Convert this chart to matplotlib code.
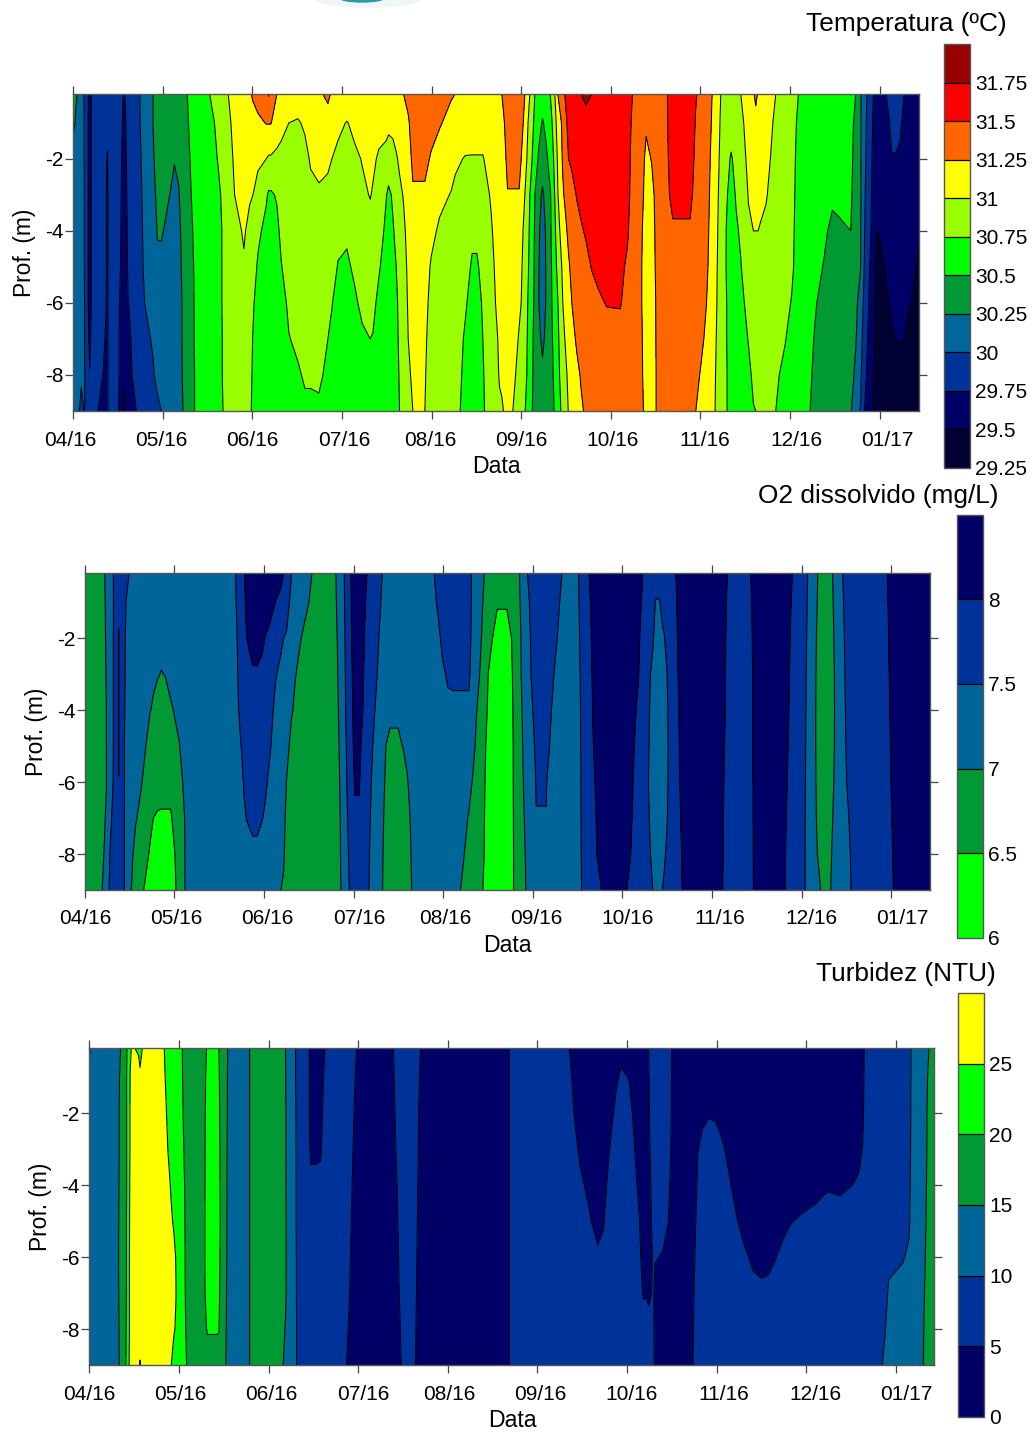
# coding: utf-8
import numpy as np
import matplotlib
matplotlib.use('Agg')
import matplotlib.pyplot as plt
from matplotlib.patches import Ellipse

plt.rcParams['font.family'] = ['Liberation Sans', 'DejaVu Sans']

W = 1032.0
H = 1432.0
MONTH = 269.0

depths = [-0.2, -1, -2, -3, -4, -5, -6, -7, -8, -9]
months = ['04/16', '05/16', '06/16', '07/16', '08/16', '09/16', '10/16', '11/16', '12/16', '01/17']

temp_levels = [29.25, 29.5, 29.75, 30, 30.25, 30.5, 30.75, 31, 31.25, 31.5, 31.75, 32]
temp_labels = ['29.25', '29.5', '29.75', '30', '30.25', '30.5', '30.75', '31', '31.25', '31.5', '31.75']
temp_colors = ['#000033', '#000066', '#003399', '#006699', '#009933', '#00ff00', '#99ff00', '#ffff00', '#ff6600', '#ff0000', '#990000']

o2_levels = [6, 6.5, 7, 7.5, 8, 8.5]
o2_labels = ['6', '6.5', '7', '7.5', '8']
o2_colors = ['#00ff00', '#009933', '#006699', '#003399', '#000066']

turb_levels = [0, 5, 10, 15, 20, 25, 30]
turb_labels = ['0', '5', '10', '15', '20', '25']
turb_colors = ['#000066', '#003399', '#006699', '#009933', '#00ff00', '#ffff00']

# first column: time (1/269 of a month since 04/16), then one value per depth
temp_table = [
    [0, 30.52, 30.38, 30.05, 30.12, 30.12, 30.12, 30.12, 30.12, 30.12, 30.12],
    [12, 30.25, 30.12, 30.12, 30.12, 30.12, 30.12, 30.12, 30.12, 30.12, 30.12],
    [25, 30.1, 30.1, 30.1, 30.1, 30.1, 30.1, 30.1, 30.1, 30.05, 29.9],
    [34, 29.98, 29.99, 29.99, 30, 30, 30, 30.01, 30.01, 30.02, 30.02],
    [42, 29.88, 29.88, 29.88, 29.88, 29.88, 29.88, 29.88, 29.88, 29.88, 29.88],
    [50, 29.6, 29.6, 29.6, 29.6, 29.6, 29.6, 29.6, 29.7, 29.76, 29.88],
    [60, 29.88, 29.88, 29.88, 29.88, 29.88, 29.88, 29.88, 29.88, 29.88, 29.88],
    [75, 29.9, 29.9, 29.9, 29.9, 29.9, 29.9, 29.9, 29.9, 29.9, 29.75],
    [90, 29.9, 29.9, 29.9, 29.9, 29.9, 29.9, 29.9, 29.84, 29.74, 29.65],
    [98, 29.88, 29.88, 29.88, 29.88, 29.88, 29.88, 29.8, 29.72, 29.65, 29.65],
    [103, 29.88, 29.85, 29.72, 29.62, 29.62, 29.62, 29.62, 29.62, 29.62, 29.62],
    [107, 29.9, 29.9, 29.9, 29.9, 29.9, 29.9, 29.9, 29.9, 29.9, 29.9],
    [130, 29.88, 29.88, 29.88, 29.88, 29.88, 29.88, 29.88, 29.88, 29.88, 29.88],
    [140, 29.88, 29.88, 29.88, 29.86, 29.84, 29.8, 29.75, 29.72, 29.72, 29.7],
    [150, 29.76, 29.72, 29.65, 29.62, 29.6, 29.6, 29.6, 29.6, 29.6, 29.6],
    [153, 29.7, 29.6, 29.58, 29.56, 29.55, 29.55, 29.55, 29.55, 29.55, 29.42],
    [158, 29.8, 29.74, 29.72, 29.7, 29.65, 29.62, 29.6, 29.6, 29.6, 29.6],
    [165, 29.85, 29.83, 29.82, 29.8, 29.8, 29.78, 29.74, 29.68, 29.65, 29.65],
    [190, 29.9, 29.9, 29.88, 29.88, 29.88, 29.88, 29.88, 29.88, 29.85, 29.75],
    [199, 29.99, 29.98, 29.95, 29.9, 29.88, 29.88, 29.88, 29.88, 29.88, 29.86],
    [215, 30.1, 30.1, 30.1, 30.1, 30.08, 30.05, 30.0, 29.95, 29.9, 29.88],
    [240, 30.25, 30.25, 30.22, 30.18, 30.12, 30.1, 30.1, 30.02, 29.98, 29.9],
    [253, 30.35, 30.35, 30.34, 30.3, 30.26, 30.22, 30.15, 30.12, 30.05, 29.95],
    [265, 30.35, 30.35, 30.33, 30.3, 30.27, 30.2, 30.15, 30.12, 30.1, 30.0],
    [277, 30.35, 30.35, 30.33, 30.3, 30.23, 30.18, 30.14, 30.12, 30.12, 30.12],
    [304, 30.4, 30.35, 30.26, 30.2, 30.15, 30.12, 30.12, 30.12, 30.12, 30.12],
    [317, 30.4, 30.36, 30.3, 30.23, 30.18, 30.14, 30.12, 30.12, 30.12, 30.12],
    [327, 30.42, 30.38, 30.36, 30.33, 30.3, 30.28, 30.25, 30.25, 30.24, 30.22],
    [335, 30.45, 30.4, 30.38, 30.36, 30.35, 30.35, 30.35, 30.35, 30.33, 30.3],
    [343, 30.5, 30.47, 30.44, 30.42, 30.4, 30.4, 30.4, 30.4, 30.39, 30.38],
    [355, 30.6, 30.57, 30.53, 30.5, 30.47, 30.45, 30.44, 30.43, 30.42, 30.42],
    [365, 30.6, 30.6, 30.58, 30.56, 30.54, 30.52, 30.51, 30.51, 30.5, 30.5],
    [385, 30.62, 30.62, 30.62, 30.62, 30.62, 30.62, 30.62, 30.62, 30.62, 30.62],
    [410, 30.75, 30.68, 30.64, 30.62, 30.62, 30.61, 30.6, 30.6, 30.6, 30.6],
    [435, 30.83, 30.8, 30.76, 30.7, 30.66, 30.65, 30.65, 30.64, 30.63, 30.62],
    [448, 30.9, 30.86, 30.82, 30.78, 30.76, 30.76, 30.76, 30.75, 30.75, 30.74],
    [466, 31.0, 30.95, 30.92, 30.88, 30.85, 30.84, 30.83, 30.83, 30.82, 30.82],
    [485, 31.1, 31.07, 31.03, 31.0, 30.94, 30.9, 30.86, 30.85, 30.84, 30.83],
    [513, 31.2, 31.15, 31.1, 31.05, 31.02, 30.98, 30.92, 30.88, 30.86, 30.85],
    [530, 31.22, 31.14, 31.08, 31.02, 30.95, 30.9, 30.86, 30.84, 30.82, 30.78],
    [540, 31.28, 31.16, 31.08, 31.0, 30.92, 30.85, 30.78, 30.74, 30.72, 30.72],
    [555, 31.35, 31.2, 31.05, 30.9, 30.8, 30.72, 30.65, 30.65, 30.65, 30.65],
    [580, 31.42, 31.26, 31.0, 30.78, 30.68, 30.64, 30.62, 30.62, 30.62, 30.62],
    [587, 31.52, 31.26, 30.97, 30.72, 30.65, 30.62, 30.62, 30.62, 30.62, 30.62],
    [594, 31.4, 31.26, 30.97, 30.72, 30.65, 30.62, 30.62, 30.62, 30.62, 30.62],
    [612, 31.25, 31.12, 30.95, 30.77, 30.7, 30.64, 30.62, 30.62, 30.62, 30.62],
    [625, 31.15, 31.05, 30.95, 30.88, 30.8, 30.74, 30.65, 30.63, 30.62, 30.62],
    [648, 31.1, 31.0, 30.95, 30.92, 30.9, 30.85, 30.8, 30.74, 30.68, 30.62],
    [675, 31.12, 30.98, 30.94, 30.92, 30.9, 30.88, 30.85, 30.8, 30.72, 30.65],
    [696, 31.12, 31.03, 30.94, 30.92, 30.9, 30.88, 30.85, 30.82, 30.78, 30.7],
    [713, 31.15, 31.08, 31.02, 30.95, 30.9, 30.88, 30.85, 30.82, 30.78, 30.7],
    [738, 31.2, 31.12, 31.06, 30.97, 30.92, 30.88, 30.85, 30.82, 30.78, 30.72],
    [750, 31.25, 31.14, 31.05, 30.96, 30.9, 30.86, 30.83, 30.79, 30.75, 30.68],
    [765, 31.3, 31.15, 31.04, 30.94, 30.88, 30.84, 30.8, 30.75, 30.7, 30.64],
    [777, 31.22, 31.12, 31.0, 30.92, 30.87, 30.83, 30.76, 30.7, 30.65, 30.62],
    [795, 31.2, 31.05, 30.95, 30.88, 30.8, 30.74, 30.66, 30.63, 30.62, 30.62],
    [822, 31.18, 30.99, 30.94, 30.87, 30.78, 30.72, 30.65, 30.62, 30.62, 30.62],
    [845, 31.17, 31.05, 30.96, 30.9, 30.84, 30.78, 30.72, 30.66, 30.62, 30.62],
    [868, 31.2, 31.1, 31.01, 30.96, 30.9, 30.85, 30.79, 30.72, 30.65, 30.62],
    [892, 31.2, 31.12, 31.05, 31.01, 30.93, 30.88, 30.82, 30.75, 30.68, 30.62],
    [900, 31.2, 31.12, 31.04, 30.98, 30.92, 30.86, 30.8, 30.74, 30.66, 30.62],
    [918, 31.17, 31.08, 30.97, 30.92, 30.85, 30.77, 30.7, 30.65, 30.62, 30.62],
    [940, 31.17, 31.05, 30.95, 30.76, 30.7, 30.66, 30.64, 30.63, 30.62, 30.62],
    [947, 31.17, 31.05, 30.9, 30.7, 30.66, 30.64, 30.63, 30.62, 30.62, 30.62],
    [960, 31.17, 31.04, 30.95, 30.78, 30.73, 30.7, 30.68, 30.67, 30.66, 30.66],
    [970, 31.2, 31.08, 30.98, 30.9, 30.8, 30.75, 30.7, 30.68, 30.67, 30.66],
    [980, 31.22, 31.12, 31.03, 30.96, 30.9, 30.86, 30.82, 30.8, 30.77, 30.75],
    [992, 31.25, 31.15, 31.08, 31.01, 30.97, 30.94, 30.9, 30.87, 30.85, 30.83],
    [1006, 31.32, 31.22, 31.15, 31.1, 31.05, 31.03, 31.02, 31.0, 30.96, 30.92],
    [1020, 31.4, 31.35, 31.3, 31.22, 31.15, 31.12, 31.1, 31.08, 31.04, 31.0],
    [1038, 31.4, 31.35, 31.3, 31.22, 31.14, 31.1, 31.08, 31.06, 31.05, 31.05],
    [1056, 31.4, 31.35, 31.3, 31.22, 31.12, 31.08, 31.06, 31.04, 31.02, 31.0],
    [1075, 31.4, 31.32, 31.23, 31.12, 31.05, 30.98, 30.94, 30.9, 30.87, 30.85],
    [1100, 31.38, 31.27, 31.15, 31.05, 30.97, 30.92, 30.9, 30.87, 30.84, 30.82],
    [1135, 31.27, 31.18, 31.08, 30.99, 30.93, 30.9, 30.88, 30.86, 30.84, 30.8],
    [1147, 31.25, 31.14, 31.04, 30.95, 30.91, 30.88, 30.85, 30.82, 30.79, 30.77],
    [1162, 31.22, 31.12, 31.01, 30.94, 30.9, 30.86, 30.82, 30.8, 30.78, 30.75],
    [1177, 31.2, 31.1, 30.99, 30.93, 30.88, 30.84, 30.78, 30.72, 30.68, 30.65],
    [1198, 31.18, 31.08, 30.99, 30.9, 30.8, 30.72, 30.66, 30.63, 30.62, 30.62],
    [1212, 31.18, 31.08, 30.99, 30.9, 30.8, 30.72, 30.68, 30.65, 30.63, 30.62],
    [1230, 31.18, 31.08, 30.99, 30.93, 30.87, 30.82, 30.77, 30.75, 30.72, 30.7],
    [1236, 31.18, 31.09, 31.01, 30.95, 30.9, 30.86, 30.82, 30.8, 30.78, 30.76],
    [1250, 31.2, 31.14, 31.08, 31.0, 30.95, 30.9, 30.87, 30.85, 30.83, 30.8],
    [1255, 31.21, 31.15, 31.09, 31.02, 30.98, 30.93, 30.9, 30.87, 30.85, 30.82],
    [1268, 31.22, 31.15, 31.1, 31.07, 31.05, 31.03, 31.0, 30.95, 30.92, 30.88],
    [1280, 31.23, 31.17, 31.12, 31.1, 31.08, 31.06, 31.05, 31.04, 31.02, 30.96],
    [1287, 31.25, 31.18, 31.13, 31.11, 31.09, 31.07, 31.06, 31.05, 31.03, 30.98],
    [1292, 31.3, 31.22, 31.17, 31.13, 31.1, 31.08, 31.07, 31.06, 31.04, 31.0],
    [1304, 31.4, 31.35, 31.3, 31.24, 31.15, 31.12, 31.1, 31.08, 31.05, 31.03],
    [1320, 31.4, 31.35, 31.3, 31.24, 31.15, 31.11, 31.08, 31.05, 31.03, 31.0],
    [1339, 31.4, 31.35, 31.3, 31.24, 31.12, 31.07, 31.02, 30.99, 30.96, 30.85],
    [1345, 31.4, 31.34, 31.25, 31.15, 31.06, 31.03, 31.0, 30.96, 30.9, 30.84],
    [1356, 31.25, 31.18, 31.1, 31.0, 30.94, 30.9, 30.86, 30.84, 30.82, 30.76],
    [1371, 31.0, 30.9, 30.85, 30.75, 30.72, 30.7, 30.67, 30.65, 30.64, 30.62],
    [1386, 30.75, 30.7, 30.63, 30.5, 30.48, 30.46, 30.45, 30.42, 30.4, 30.38],
    [1398, 30.65, 30.58, 30.46, 30.35, 30.28, 30.26, 30.25, 30.3, 30.35, 30.38],
    [1409, 30.62, 30.48, 30.42, 30.2, 30.14, 30.12, 30.12, 30.2, 30.3, 30.38],
    [1420, 30.65, 30.55, 30.46, 30.36, 30.28, 30.27, 30.27, 30.3, 30.35, 30.38],
    [1433, 30.76, 30.66, 30.58, 30.49, 30.47, 30.45, 30.44, 30.43, 30.42, 30.4],
    [1446, 31.0, 30.9, 30.82, 30.76, 30.7, 30.66, 30.62, 30.58, 30.55, 30.52],
    [1455, 31.25, 31.12, 31.04, 30.99, 30.92, 30.82, 30.74, 30.7, 30.68, 30.64],
    [1470, 31.35, 31.3, 31.28, 31.22, 31.12, 31.05, 31.0, 30.95, 30.88, 30.82],
    [1476, 31.5, 31.42, 31.36, 31.28, 31.18, 31.1, 31.04, 31.0, 30.94, 30.88],
    [1487, 31.6, 31.56, 31.5, 31.4, 31.3, 31.22, 31.12, 31.08, 31.04, 31.01],
    [1497, 31.65, 31.6, 31.53, 31.44, 31.36, 31.3, 31.25, 31.18, 31.12, 31.06],
    [1512, 31.7, 31.65, 31.58, 31.51, 31.44, 31.38, 31.32, 31.28, 31.2, 31.14],
    [1525, 31.75, 31.66, 31.6, 31.55, 31.48, 31.4, 31.36, 31.32, 31.27, 31.22],
    [1539, 31.82, 31.64, 31.62, 31.56, 31.52, 31.44, 31.38, 31.34, 31.3, 31.28],
    [1557, 31.75, 31.66, 31.62, 31.58, 31.55, 31.51, 31.42, 31.36, 31.32, 31.3],
    [1577, 31.7, 31.66, 31.64, 31.62, 31.58, 31.55, 31.47, 31.38, 31.32, 31.3],
    [1602, 31.7, 31.66, 31.64, 31.62, 31.6, 31.55, 31.51, 31.42, 31.35, 31.32],
    [1642, 31.7, 31.66, 31.64, 31.62, 31.6, 31.56, 31.52, 31.4, 31.35, 31.32],
    [1664, 31.65, 31.63, 31.6, 31.58, 31.53, 31.46, 31.4, 31.36, 31.34, 31.32],
    [1679, 31.5, 31.45, 31.42, 31.4, 31.38, 31.36, 31.35, 31.34, 31.33, 31.32],
    [1695, 31.37, 31.37, 31.37, 31.37, 31.37, 31.37, 31.37, 31.37, 31.37, 31.37],
    [1712, 31.38, 31.33, 31.28, 31.25, 31.22, 31.2, 31.2, 31.22, 31.23, 31.25],
    [1720, 31.4, 31.28, 31.2, 31.15, 31.12, 31.12, 31.12, 31.12, 31.12, 31.12],
    [1737, 31.38, 31.35, 31.26, 31.2, 31.16, 31.14, 31.13, 31.13, 31.13, 31.13],
    [1748, 31.38, 31.36, 31.32, 31.28, 31.27, 31.26, 31.24, 31.23, 31.22, 31.22],
    [1758, 31.38, 31.38, 31.38, 31.38, 31.38, 31.38, 31.38, 31.38, 31.38, 31.38],
    [1775, 31.46, 31.42, 31.42, 31.42, 31.42, 31.42, 31.42, 31.42, 31.42, 31.42],
    [1784, 31.5, 31.49, 31.47, 31.46, 31.44, 31.42, 31.42, 31.42, 31.42, 31.42],
    [1790, 31.6, 31.58, 31.54, 31.5, 31.43, 31.4, 31.4, 31.4, 31.4, 31.4],
    [1800, 31.65, 31.62, 31.6, 31.56, 31.47, 31.4, 31.4, 31.4, 31.4, 31.4],
    [1852, 31.65, 31.62, 31.6, 31.56, 31.47, 31.4, 31.4, 31.4, 31.4, 31.4],
    [1859, 31.6, 31.58, 31.54, 31.5, 31.43, 31.4, 31.4, 31.4, 31.4, 31.36],
    [1869, 31.52, 31.48, 31.45, 31.42, 31.41, 31.4, 31.38, 31.36, 31.33, 31.25],
    [1885, 31.42, 31.42, 31.42, 31.4, 31.38, 31.36, 31.34, 31.31, 31.22, 31.15],
    [1900, 31.38, 31.38, 31.36, 31.34, 31.32, 31.3, 31.26, 31.2, 31.15, 31.1],
    [1918, 31.25, 31.23, 31.2, 31.18, 31.16, 31.14, 31.12, 31.08, 31.05, 31.02],
    [1927, 31.14, 31.12, 31.1, 31.08, 31.07, 31.06, 31.05, 31.03, 31.01, 31.0],
    [1944, 31.0, 30.98, 30.96, 30.94, 30.92, 30.9, 30.89, 30.88, 30.87, 30.86],
    [1963, 30.88, 30.86, 30.83, 30.76, 30.72, 30.72, 30.74, 30.74, 30.75, 30.75],
    [1975, 30.95, 30.88, 30.72, 30.66, 30.64, 30.62, 30.62, 30.62, 30.62, 30.62],
    [1990, 30.95, 30.9, 30.84, 30.77, 30.72, 30.68, 30.65, 30.63, 30.62, 30.62],
    [2004, 31.0, 30.95, 30.9, 30.85, 30.78, 30.74, 30.68, 30.64, 30.62, 30.62],
    [2027, 31.12, 31.08, 31.05, 31.01, 30.97, 30.88, 30.83, 30.76, 30.7, 30.66],
    [2042, 31.22, 31.15, 31.1, 31.06, 31.0, 30.94, 30.88, 30.84, 30.79, 30.74],
    [2049, 31.32, 31.15, 31.1, 31.06, 31.0, 30.94, 30.89, 30.85, 30.8, 30.75],
    [2056, 31.22, 31.15, 31.09, 31.05, 31.0, 30.94, 30.9, 30.86, 30.81, 30.77],
    [2062, 31.18, 31.14, 31.08, 31.04, 30.99, 30.94, 30.9, 30.86, 30.82, 30.79],
    [2080, 31.1, 31.07, 31.04, 31.01, 30.97, 30.93, 30.9, 30.87, 30.84, 30.8],
    [2109, 31.0, 30.97, 30.95, 30.93, 30.9, 30.88, 30.85, 30.82, 30.78, 30.75],
    [2137, 30.9, 30.89, 30.88, 30.87, 30.85, 30.83, 30.8, 30.76, 30.7, 30.66],
    [2157, 30.82, 30.82, 30.81, 30.8, 30.79, 30.78, 30.74, 30.68, 30.65, 30.63],
    [2177, 30.75, 30.72, 30.7, 30.69, 30.68, 30.67, 30.66, 30.65, 30.64, 30.64],
    [2200, 30.62, 30.62, 30.62, 30.62, 30.62, 30.62, 30.62, 30.6, 30.56, 30.53],
    [2212, 30.62, 30.62, 30.62, 30.62, 30.62, 30.6, 30.58, 30.56, 30.53, 30.5],
    [2232, 30.62, 30.62, 30.62, 30.62, 30.58, 30.54, 30.5, 30.45, 30.42, 30.38],
    [2254, 30.62, 30.62, 30.6, 30.58, 30.53, 30.49, 30.44, 30.4, 30.38, 30.36],
    [2279, 30.62, 30.6, 30.58, 30.53, 30.46, 30.42, 30.38, 30.36, 30.35, 30.34],
    [2300, 30.62, 30.6, 30.58, 30.55, 30.47, 30.42, 30.39, 30.36, 30.34, 30.32],
    [2334, 30.56, 30.56, 30.55, 30.53, 30.5, 30.42, 30.38, 30.36, 30.34, 30.27],
    [2349, 30.5, 30.45, 30.42, 30.4, 30.35, 30.32, 30.3, 30.27, 30.2, 30.12],
    [2364, 30.26, 30.26, 30.26, 30.26, 30.25, 30.25, 30.15, 30.08, 30.03, 29.98],
    [2373, 30.15, 30.12, 30.1, 30.08, 30.05, 30.03, 29.97, 29.92, 29.85, 29.78],
    [2382, 30.0, 29.98, 29.95, 29.92, 29.88, 29.85, 29.82, 29.78, 29.73, 29.68],
    [2392, 29.87, 29.85, 29.82, 29.8, 29.78, 29.74, 29.7, 29.66, 29.62, 29.56],
    [2402, 29.75, 29.72, 29.7, 29.68, 29.66, 29.63, 29.6, 29.56, 29.52, 29.47],
    [2412, 29.65, 29.63, 29.6, 29.56, 29.5, 29.45, 29.42, 29.4, 29.38, 29.37],
    [2425, 29.65, 29.63, 29.6, 29.57, 29.52, 29.46, 29.42, 29.4, 29.38, 29.37],
    [2439, 29.74, 29.66, 29.62, 29.6, 29.56, 29.52, 29.45, 29.4, 29.38, 29.37],
    [2457, 29.85, 29.8, 29.74, 29.68, 29.62, 29.58, 29.55, 29.47, 29.4, 29.37],
    [2469, 29.85, 29.8, 29.74, 29.68, 29.62, 29.58, 29.56, 29.5, 29.42, 29.37],
    [2482, 29.85, 29.78, 29.72, 29.65, 29.62, 29.6, 29.56, 29.51, 29.44, 29.38],
    [2494, 29.75, 29.7, 29.66, 29.64, 29.62, 29.6, 29.56, 29.5, 29.42, 29.37],
    [2502, 29.66, 29.65, 29.64, 29.63, 29.62, 29.6, 29.54, 29.47, 29.4, 29.37],
    [2517, 29.65, 29.65, 29.64, 29.63, 29.6, 29.57, 29.49, 29.42, 29.38, 29.37],
    [2538, 29.65, 29.65, 29.63, 29.6, 29.53, 29.46, 29.42, 29.4, 29.38, 29.37],
]

o2_table = [
    [0, 6.75, 6.75, 6.75, 6.75, 6.75, 6.75, 6.75, 6.75, 6.75, 6.75],
    [40, 6.8, 6.8, 6.8, 6.8, 6.8, 6.8, 6.8, 6.8, 6.8, 6.8],
    [50, 6.9, 6.9, 6.9, 6.9, 6.9, 6.9, 6.9, 6.9, 6.92, 6.97],
    [65, 7.05, 7.03, 7.02, 7.01, 7, 7, 6.99, 7.03, 7.08, 7.15],
    [73, 7.2, 7.2, 7.2, 7.2, 7.2, 7.2, 7.2, 7.35, 7.45, 7.5],
    [86, 7.5, 7.5, 7.5, 7.5, 7.5, 7.5, 7.52, 7.6, 7.7, 7.75],
    [98, 7.75, 7.75, 7.75, 7.75, 7.75, 7.75, 7.75, 7.75, 7.75, 7.75],
    [102, 7.75, 7.85, 8.05, 8.05, 8.05, 8.05, 7.99, 7.8, 7.75, 7.75],
    [106, 7.75, 7.75, 7.75, 7.75, 7.75, 7.75, 7.75, 7.75, 7.75, 7.75],
    [119, 7.7, 7.7, 7.65, 7.6, 7.55, 7.5, 7.5, 7.5, 7.5, 7.5],
    [124, 7.6, 7.5, 7.4, 7.38, 7.36, 7.35, 7.35, 7.35, 7.35, 7.35],
    [133, 7.5, 7.4, 7.3, 7.25, 7.25, 7.25, 7.25, 7.25, 7.22, 7.2],
    [140, 7.3, 7.25, 7.25, 7.25, 7.2, 7.2, 7.2, 7.15, 7.05, 7.0],
    [153, 7.25, 7.25, 7.25, 7.25, 7.2, 7.16, 7.12, 7.02, 6.92, 6.85],
    [171, 7.25, 7.25, 7.22, 7.18, 7.15, 7.1, 7.01, 6.92, 6.8, 6.55],
    [196, 7.2, 7.2, 7.18, 7.1, 7.01, 6.9, 6.8, 6.62, 6.45, 6.35],
    [206, 7.2, 7.2, 7.12, 7.04, 6.97, 6.85, 6.7, 6.5, 6.35, 6.3],
    [218, 7.25, 7.2, 7.1, 7.02, 6.9, 6.8, 6.62, 6.47, 6.3, 6.25],
    [230, 7.25, 7.18, 7.08, 6.99, 6.9, 6.78, 6.62, 6.46, 6.3, 6.25],
    [243, 7.25, 7.19, 7.1, 7.01, 6.92, 6.8, 6.62, 6.46, 6.3, 6.25],
    [258, 7.25, 7.2, 7.12, 7.05, 6.98, 6.85, 6.62, 6.46, 6.3, 6.28],
    [274, 7.25, 7.22, 7.15, 7.1, 7.02, 6.97, 6.72, 6.65, 6.55, 6.5],
    [284, 7.25, 7.25, 7.2, 7.15, 7.08, 6.99, 6.85, 6.78, 6.7, 6.65],
    [294, 7.25, 7.25, 7.22, 7.18, 7.14, 7.1, 7.0, 6.9, 6.85, 6.8],
    [301, 7.25, 7.25, 7.25, 7.22, 7.2, 7.15, 7.05, 7.02, 7.01, 7.0],
    [310, 7.25, 7.25, 7.25, 7.25, 7.25, 7.25, 7.25, 7.25, 7.25, 7.25],
    [445, 7.25, 7.25, 7.25, 7.25, 7.25, 7.25, 7.25, 7.25, 7.25, 7.25],
    [453, 7.5, 7.48, 7.42, 7.38, 7.3, 7.28, 7.25, 7.25, 7.25, 7.25],
    [461, 7.62, 7.6, 7.56, 7.53, 7.49, 7.4, 7.3, 7.25, 7.22, 7.2],
    [471, 7.8, 7.75, 7.7, 7.65, 7.58, 7.52, 7.42, 7.3, 7.25, 7.2],
    [479, 8.0, 7.95, 7.85, 7.78, 7.7, 7.62, 7.55, 7.45, 7.3, 7.25],
    [486, 8.1, 8.06, 8.0, 7.85, 7.75, 7.7, 7.6, 7.51, 7.35, 7.25],
    [504, 8.25, 8.2, 8.1, 7.97, 7.9, 7.8, 7.7, 7.58, 7.42, 7.3],
    [518, 8.25, 8.2, 8.1, 7.97, 7.9, 7.8, 7.7, 7.58, 7.42, 7.3],
    [533, 8.25, 8.2, 8.04, 7.95, 7.85, 7.75, 7.65, 7.51, 7.35, 7.25],
    [541, 8.2, 8.12, 8.0, 7.9, 7.78, 7.68, 7.58, 7.45, 7.3, 7.22],
    [561, 8.2, 8.05, 7.93, 7.8, 7.54, 7.48, 7.35, 7.25, 7.2, 7.15],
    [572, 8.15, 8.0, 7.85, 7.52, 7.45, 7.3, 7.2, 7.2, 7.15, 7.1],
    [589, 8.05, 7.95, 7.54, 7.45, 7.35, 7.25, 7.2, 7.15, 7.08, 7.0],
    [597, 8.0, 7.8, 7.5, 7.35, 7.25, 7.2, 7.15, 7.1, 7.05, 6.95],
    [606, 7.9, 7.7, 7.45, 7.3, 7.2, 7.1, 6.99, 6.9, 6.85, 6.8],
    [621, 7.5, 7.35, 7.3, 7.18, 7.03, 6.9, 6.85, 6.8, 6.78, 6.76],
    [631, 7.35, 7.25, 7.15, 7.02, 6.95, 6.85, 6.8, 6.78, 6.76, 6.75],
    [651, 7.3, 7.2, 6.99, 6.9, 6.8, 6.78, 6.76, 6.75, 6.75, 6.75],
    [682, 7.0, 6.92, 6.85, 6.8, 6.78, 6.75, 6.75, 6.75, 6.75, 6.75],
    [700, 6.75, 6.75, 6.75, 6.75, 6.75, 6.75, 6.75, 6.75, 6.75, 6.75],
    [740, 6.75, 6.75, 6.75, 6.75, 6.75, 6.75, 6.75, 6.75, 6.75, 6.75],
    [754, 7.0, 6.98, 6.95, 6.93, 6.9, 6.88, 6.85, 6.82, 6.8, 6.78],
    [769, 7.25, 7.2, 7.15, 7.12, 7.1, 7.07, 7.05, 7.03, 7.02, 7.0],
    [779, 7.5, 7.48, 7.45, 7.42, 7.4, 7.35, 7.32, 7.28, 7.25, 7.2],
    [794, 7.9, 7.85, 7.82, 7.8, 7.78, 7.72, 7.68, 7.6, 7.55, 7.5],
    [799, 8.0, 7.98, 7.96, 7.94, 7.92, 7.85, 7.78, 7.7, 7.62, 7.55],
    [806, 8.1, 8.1, 8.1, 8.05, 8.02, 8.0, 7.95, 7.85, 7.75, 7.65],
    [811, 8.2, 8.2, 8.15, 8.12, 8.1, 8.07, 8.03, 7.95, 7.8, 7.7],
    [824, 8.2, 8.2, 8.15, 8.12, 8.1, 8.07, 8.03, 7.95, 7.8, 7.7],
    [836, 8.1, 8.08, 8.05, 8.02, 7.99, 7.9, 7.8, 7.7, 7.62, 7.55],
    [847, 8.0, 7.95, 7.9, 7.85, 7.8, 7.72, 7.65, 7.58, 7.52, 7.5],
    [853, 7.85, 7.82, 7.78, 7.74, 7.68, 7.62, 7.58, 7.55, 7.52, 7.5],
    [876, 7.7, 7.65, 7.57, 7.52, 7.45, 7.38, 7.32, 7.28, 7.25, 7.25],
    [893, 7.5, 7.45, 7.4, 7.35, 7.3, 7.25, 7.2, 7.1, 7.05, 7.02],
    [904, 7.25, 7.25, 7.22, 7.15, 7.08, 7.0, 6.9, 6.85, 6.82, 6.8],
    [916, 7.25, 7.25, 7.2, 7.12, 7.04, 6.96, 6.85, 6.8, 6.78, 6.75],
    [941, 7.25, 7.25, 7.2, 7.12, 7.04, 6.96, 6.85, 6.8, 6.78, 6.75],
    [956, 7.25, 7.25, 7.2, 7.15, 7.08, 7.01, 6.9, 6.85, 6.8, 6.78],
    [968, 7.25, 7.25, 7.22, 7.18, 7.12, 7.06, 6.98, 6.9, 6.85, 6.82],
    [981, 7.25, 7.25, 7.25, 7.22, 7.18, 7.14, 7.1, 7.05, 7.02, 7.0],
    [990, 7.25, 7.25, 7.25, 7.25, 7.25, 7.25, 7.25, 7.25, 7.25, 7.25],
    [1045, 7.25, 7.25, 7.25, 7.25, 7.25, 7.25, 7.25, 7.25, 7.25, 7.25],
    [1049, 7.5, 7.45, 7.38, 7.3, 7.26, 7.25, 7.25, 7.25, 7.25, 7.25],
    [1062, 7.65, 7.55, 7.45, 7.38, 7.3, 7.25, 7.25, 7.25, 7.25, 7.25],
    [1074, 7.7, 7.65, 7.56, 7.46, 7.35, 7.3, 7.25, 7.25, 7.25, 7.25],
    [1090, 7.8, 7.75, 7.65, 7.53, 7.45, 7.35, 7.3, 7.25, 7.25, 7.25],
    [1106, 7.8, 7.75, 7.7, 7.56, 7.43, 7.35, 7.3, 7.28, 7.25, 7.2],
    [1128, 7.8, 7.75, 7.7, 7.56, 7.43, 7.3, 7.25, 7.2, 7.1, 7.0],
    [1153, 7.8, 7.72, 7.65, 7.56, 7.43, 7.3, 7.15, 6.97, 6.88, 6.8],
    [1161, 7.5, 7.48, 7.45, 7.42, 7.35, 7.2, 7.02, 6.88, 6.8, 6.72],
    [1176, 7.35, 7.3, 7.2, 7.1, 7.01, 6.92, 6.85, 6.8, 6.75, 6.72],
    [1188, 7.15, 7.1, 7.03, 6.97, 6.9, 6.85, 6.8, 6.75, 6.72, 6.7],
    [1195, 7.05, 7.0, 6.95, 6.9, 6.8, 6.7, 6.62, 6.58, 6.54, 6.5],
    [1199, 7.0, 6.95, 6.9, 6.85, 6.75, 6.6, 6.55, 6.52, 6.5, 6.48],
    [1211, 6.85, 6.75, 6.6, 6.5, 6.42, 6.35, 6.3, 6.28, 6.25, 6.25],
    [1224, 6.8, 6.65, 6.5, 6.4, 6.3, 6.25, 6.25, 6.25, 6.25, 6.25],
    [1238, 6.75, 6.52, 6.42, 6.35, 6.25, 6.25, 6.25, 6.25, 6.25, 6.25],
    [1267, 6.75, 6.52, 6.42, 6.35, 6.25, 6.25, 6.25, 6.25, 6.25, 6.25],
    [1281, 6.75, 6.65, 6.5, 6.45, 6.42, 6.4, 6.38, 6.36, 6.35, 6.35],
    [1287, 6.78, 6.72, 6.62, 6.57, 6.54, 6.52, 6.52, 6.51, 6.5, 6.5],
    [1295, 6.9, 6.85, 6.75, 6.75, 6.75, 6.75, 6.75, 6.75, 6.75, 6.75],
    [1305, 7.0, 6.98, 6.96, 6.95, 6.92, 6.9, 6.88, 6.85, 6.82, 6.8],
    [1324, 7.2, 7.2, 7.15, 7.15, 7.12, 7.1, 7.08, 7.05, 7.02, 7.0],
    [1329, 7.5, 7.4, 7.3, 7.25, 7.22, 7.2, 7.2, 7.18, 7.15, 7.1],
    [1340, 7.65, 7.6, 7.55, 7.51, 7.45, 7.38, 7.3, 7.25, 7.25, 7.25],
    [1355, 7.75, 7.75, 7.7, 7.65, 7.6, 7.56, 7.52, 7.49, 7.4, 7.3],
    [1385, 7.75, 7.75, 7.7, 7.65, 7.6, 7.56, 7.52, 7.49, 7.4, 7.3],
    [1395, 7.72, 7.7, 7.65, 7.6, 7.55, 7.5, 7.42, 7.35, 7.3, 7.25],
    [1407, 7.7, 7.65, 7.58, 7.51, 7.45, 7.38, 7.32, 7.28, 7.25, 7.25],
    [1432, 7.5, 7.45, 7.4, 7.35, 7.3, 7.25, 7.25, 7.25, 7.25, 7.25],
    [1450, 7.25, 7.25, 7.25, 7.25, 7.25, 7.25, 7.25, 7.25, 7.25, 7.25],
    [1470, 7.3, 7.3, 7.28, 7.27, 7.26, 7.25, 7.25, 7.25, 7.25, 7.25],
    [1482, 7.5, 7.48, 7.45, 7.42, 7.38, 7.36, 7.34, 7.3, 7.28, 7.25],
    [1491, 7.62, 7.6, 7.58, 7.57, 7.56, 7.55, 7.54, 7.53, 7.52, 7.5],
    [1505, 7.75, 7.75, 7.75, 7.75, 7.75, 7.75, 7.75, 7.75, 7.75, 7.75],
    [1514, 8.0, 7.95, 7.9, 7.87, 7.85, 7.82, 7.8, 7.78, 7.75, 7.72],
    [1527, 8.15, 8.12, 8.1, 8.07, 8.04, 8.0, 7.95, 7.9, 7.85, 7.82],
    [1537, 8.2, 8.18, 8.15, 8.13, 8.1, 8.08, 8.06, 8.03, 8.0, 7.95],
    [1551, 8.25, 8.25, 8.25, 8.22, 8.2, 8.18, 8.15, 8.1, 8.05, 8.0],
    [1570, 8.25, 8.25, 8.25, 8.25, 8.25, 8.25, 8.25, 8.25, 8.25, 8.25],
    [1620, 8.25, 8.25, 8.25, 8.25, 8.25, 8.25, 8.25, 8.25, 8.25, 8.25],
    [1627, 8.25, 8.25, 8.25, 8.25, 8.22, 8.2, 8.17, 8.12, 8.08, 8.0],
    [1639, 8.2, 8.2, 8.2, 8.15, 8.12, 8.1, 8.08, 8.05, 8.0, 7.9],
    [1662, 8.12, 8.08, 8.04, 8.01, 7.95, 7.88, 7.82, 7.75, 7.7, 7.68],
    [1675, 8.0, 7.96, 7.9, 7.85, 7.8, 7.75, 7.72, 7.7, 7.68, 7.65],
    [1688, 7.75, 7.75, 7.75, 7.72, 7.65, 7.58, 7.55, 7.6, 7.68, 7.72],
    [1692, 7.75, 7.75, 7.72, 7.65, 7.6, 7.55, 7.5, 7.55, 7.65, 7.7],
    [1697, 7.75, 7.75, 7.7, 7.52, 7.45, 7.4, 7.4, 7.45, 7.52, 7.6],
    [1705, 7.75, 7.65, 7.55, 7.4, 7.3, 7.25, 7.25, 7.27, 7.35, 7.5],
    [1714, 7.75, 7.47, 7.35, 7.28, 7.25, 7.25, 7.25, 7.25, 7.28, 7.3],
    [1724, 7.75, 7.47, 7.35, 7.28, 7.25, 7.25, 7.25, 7.25, 7.28, 7.3],
    [1734, 7.7, 7.6, 7.45, 7.35, 7.28, 7.25, 7.25, 7.3, 7.38, 7.5],
    [1739, 7.7, 7.62, 7.48, 7.38, 7.3, 7.28, 7.28, 7.4, 7.45, 7.55],
    [1747, 7.72, 7.68, 7.6, 7.48, 7.42, 7.4, 7.42, 7.46, 7.55, 7.65],
    [1755, 7.75, 7.75, 7.75, 7.7, 7.62, 7.6, 7.6, 7.65, 7.72, 7.75],
    [1765, 7.75, 7.75, 7.75, 7.75, 7.75, 7.75, 7.75, 7.75, 7.75, 7.75],
    [1774, 8.0, 7.96, 7.93, 7.9, 7.87, 7.85, 7.82, 7.8, 7.78, 7.75],
    [1793, 8.25, 8.22, 8.2, 8.18, 8.15, 8.12, 8.1, 8.06, 8.02, 8.0],
    [1805, 8.25, 8.25, 8.25, 8.25, 8.25, 8.25, 8.25, 8.25, 8.25, 8.25],
    [1905, 8.25, 8.25, 8.25, 8.25, 8.25, 8.25, 8.25, 8.25, 8.25, 8.25],
    [1915, 8.12, 8.1, 8.09, 8.08, 8.07, 8.06, 8.05, 8.03, 8.02, 8.0],
    [1922, 8.05, 8.04, 8.03, 8.02, 8.01, 7.98, 7.95, 7.93, 7.9, 7.88],
    [1929, 8.0, 7.97, 7.94, 7.92, 7.9, 7.88, 7.86, 7.85, 7.85, 7.85],
    [1940, 7.75, 7.75, 7.75, 7.75, 7.75, 7.75, 7.75, 7.75, 7.75, 7.75],
    [1990, 7.75, 7.75, 7.75, 7.75, 7.75, 7.75, 7.75, 7.75, 7.75, 7.75],
    [1999, 8.0, 7.96, 7.9, 7.85, 7.82, 7.8, 7.78, 7.76, 7.75, 7.75],
    [2007, 8.1, 8.09, 8.08, 8.07, 8.06, 8.05, 8.04, 8.03, 8.02, 8.0],
    [2020, 8.25, 8.25, 8.25, 8.25, 8.25, 8.25, 8.25, 8.25, 8.25, 8.25],
    [2090, 8.25, 8.25, 8.25, 8.25, 8.25, 8.25, 8.25, 8.25, 8.25, 8.25],
    [2102, 8.2, 8.18, 8.16, 8.15, 8.12, 8.1, 8.08, 8.05, 8.02, 8.0],
    [2113, 8.1, 8.08, 8.05, 8.03, 8.01, 7.98, 7.95, 7.9, 7.85, 7.82],
    [2124, 8.0, 7.96, 7.92, 7.88, 7.85, 7.82, 7.8, 7.78, 7.76, 7.75],
    [2135, 7.75, 7.75, 7.75, 7.75, 7.75, 7.75, 7.75, 7.75, 7.75, 7.75],
    [2150, 7.75, 7.75, 7.75, 7.75, 7.75, 7.75, 7.75, 7.72, 7.68, 7.62],
    [2162, 7.6, 7.58, 7.56, 7.55, 7.54, 7.53, 7.52, 7.51, 7.5, 7.5],
    [2170, 7.5, 7.48, 7.46, 7.44, 7.42, 7.4, 7.38, 7.36, 7.35, 7.35],
    [2185, 7.25, 7.25, 7.25, 7.25, 7.25, 7.25, 7.25, 7.25, 7.25, 7.25],
    [2196, 7.05, 7.03, 7.0, 6.97, 6.95, 6.95, 6.97, 7.0, 7.03, 7.06],
    [2209, 6.9, 6.88, 6.85, 6.82, 6.8, 6.8, 6.8, 6.82, 6.9, 7.0],
    [2224, 6.75, 6.75, 6.75, 6.75, 6.75, 6.75, 6.75, 6.75, 6.75, 6.75],
    [2239, 6.92, 6.9, 6.88, 6.85, 6.82, 6.82, 6.85, 6.9, 6.95, 7.0],
    [2250, 7.08, 7.05, 7.02, 7.0, 6.99, 7.0, 7.03, 7.08, 7.15, 7.2],
    [2262, 7.25, 7.25, 7.25, 7.25, 7.25, 7.25, 7.25, 7.25, 7.25, 7.25],
    [2275, 7.5, 7.47, 7.43, 7.4, 7.38, 7.35, 7.32, 7.3, 7.28, 7.25],
    [2287, 7.65, 7.62, 7.6, 7.58, 7.56, 7.54, 7.5, 7.45, 7.4, 7.38],
    [2300, 7.75, 7.75, 7.75, 7.7, 7.68, 7.65, 7.6, 7.55, 7.52, 7.5],
    [2315, 7.75, 7.75, 7.75, 7.75, 7.75, 7.75, 7.75, 7.75, 7.75, 7.75],
    [2400, 7.75, 7.75, 7.75, 7.75, 7.75, 7.75, 7.75, 7.75, 7.75, 7.75],
    [2409, 8.0, 7.98, 7.96, 7.94, 7.92, 7.9, 7.88, 7.86, 7.84, 7.8],
    [2427, 8.2, 8.18, 8.16, 8.14, 8.12, 8.1, 8.08, 8.05, 8.02, 8.0],
    [2440, 8.25, 8.25, 8.25, 8.25, 8.25, 8.25, 8.25, 8.25, 8.25, 8.25],
    [2537, 8.25, 8.25, 8.25, 8.25, 8.25, 8.25, 8.25, 8.25, 8.25, 8.25],
]

turb_table = [
    [0, 9.5, 10.5, 12.5, 12.5, 12.5, 12.5, 12.5, 12.5, 12.5, 12.5],
    [15, 12.5, 12.5, 12.5, 12.5, 12.5, 12.5, 12.5, 12.5, 12.5, 12.5],
    [80, 12.5, 12.5, 12.5, 12.5, 12.5, 12.5, 12.5, 12.5, 12.5, 12.5],
    [90, 14.7, 14.9, 15, 15, 15.2, 15.5, 15.7, 15.5, 15.2, 15],
    [94, 15, 15.5, 16, 16, 16, 16, 16.2, 16, 16, 16],
    [100, 17.5, 17.5, 17.5, 17.5, 17.5, 17.5, 17.5, 17.5, 17.5, 17.5],
    [110, 19, 19, 19, 19, 19, 19.5, 19.5, 19.5, 19.8, 20],
    [113, 20, 20.5, 20.5, 20.5, 20.5, 20.5, 20.5, 20.5, 20.8, 21],
    [118, 22, 22.5, 23, 23, 23, 23.5, 24, 24, 24, 24.5],
    [123, 24.5, 25.2, 25.5, 25.5, 26, 26, 26, 26, 26, 26],
    [126, 25, 26, 26.5, 27, 27.5, 27.5, 27.5, 27.5, 27.5, 27.5],
    [135, 26, 27.5, 27.5, 27.5, 27.5, 27.5, 27.5, 27.5, 27.5, 27.5],
    [137, 25, 27, 27.5, 27.5, 27.5, 27.5, 27.5, 27.5, 27.5, 27.5],
    [148, 24.5, 26.5, 27.5, 27.5, 27.5, 27.5, 27.5, 27.5, 27.5, 27.5],
    [152, 22, 26.5, 27.5, 27.5, 27.5, 27.5, 27.5, 27.5, 27.5, 24.6],
    [156, 24, 27, 27.5, 27.5, 27.5, 27.5, 27.5, 27.5, 27.5, 27.5],
    [159, 25, 27.5, 27.5, 27.5, 27.5, 27.5, 27.5, 27.5, 27.5, 27.5],
    [170, 27.5, 27.5, 27.5, 27.5, 27.5, 27.5, 27.5, 27.5, 27.5, 27.5],
    [200, 27.5, 27.5, 27.5, 27.5, 27.5, 27.5, 27.5, 27.5, 27.5, 27.5],
    [225, 25, 25.5, 26, 26, 26, 26.5, 27, 27, 27, 27],
    [235, 23, 23.5, 24.5, 25.1, 25.8, 26, 26.5, 26.5, 26.2, 25.5],
    [246, 22, 22, 22.5, 23, 24.7, 25.3, 26, 26, 25.6, 25],
    [254, 21.5, 21.5, 22, 22.5, 23.5, 24.7, 25.6, 25.8, 25.2, 24],
    [260, 21, 21, 21.5, 22, 22.5, 23.8, 24.9, 25.05, 24.8, 23.5],
    [268, 22, 22, 22, 22, 22, 22, 22, 22, 22, 22],
    [279, 20, 20.2, 20.5, 21, 21, 21.5, 21.5, 21.5, 21.5, 21.5],
    [286, 18.5, 18.5, 19, 19.5, 20, 20.2, 20.4, 20.5, 20.6, 20.7],
    [292, 17.5, 17.5, 17.5, 17.5, 18, 18.5, 18.8, 19, 19.5, 20],
    [300, 17.5, 17.5, 17.5, 17.5, 17.5, 17.5, 17.5, 17.5, 17.5, 17.5],
    [340, 17.5, 17.5, 17.5, 17.5, 17.5, 17.5, 17.5, 17.5, 17.5, 17.5],
    [347, 19.6, 19.6, 19.7, 19.8, 19.9, 20, 20, 19.9, 19.5, 17.5],
    [352, 20, 20.5, 21, 21, 21, 21, 21, 21, 20, 17.5],
    [355, 22.5, 22.5, 22.5, 22.5, 22.5, 22.5, 22.5, 22.5, 20.8, 15.5],
    [385, 22.5, 22.5, 22.5, 22.5, 22.5, 22.5, 22.5, 22.5, 20.8, 15.5],
    [389, 20, 20.5, 21, 21.2, 21.5, 21.5, 21.5, 21, 20.2, 17.5],
    [393, 19, 19, 19, 19.5, 19.7, 20, 19.5, 19, 18.5, 17.5],
    [400, 17.5, 17.5, 17.5, 17.5, 17.5, 17.5, 17.5, 17.5, 17.5, 17.5],
    [410, 16, 16, 16, 15.9, 15.8, 15.7, 15.6, 15.4, 15.2, 15],
    [415, 15, 14.9, 14.8, 14.7, 14.6, 14.5, 14.4, 14.3, 14.2, 14],
    [430, 12.5, 12.5, 12.5, 12.5, 12.5, 12.5, 12.5, 12.5, 12.5, 12.5],
    [470, 12.5, 12.5, 12.5, 12.5, 12.5, 12.5, 12.5, 12.5, 12.5, 12.5],
    [478, 14.5, 14.5, 14.5, 14.5, 14.5, 14.5, 14.5, 14.5, 14.5, 14.5],
    [484, 15.5, 15.5, 15.5, 15.5, 15.5, 15.5, 15.5, 15.5, 15.5, 15.5],
    [500, 17.5, 17.5, 17.5, 17.5, 17.5, 17.5, 17.5, 17.5, 17.5, 17.5],
    [575, 17.5, 17.5, 17.5, 17.5, 17.5, 17.5, 17.5, 17.5, 17.5, 17.5],
    [582, 16, 16, 16, 16, 16, 16, 16, 15.8, 15.5, 15],
    [589, 15, 15.1, 15.2, 15.2, 15.3, 15.4, 15.5, 15.4, 14.8, 14],
    [600, 12.5, 12.5, 12.5, 12.5, 12.5, 12.5, 12.5, 12.5, 12.5, 12.5],
    [615, 10.5, 10.5, 10.5, 10.5, 10.5, 10.5, 10.5, 10.5, 10.5, 10.5],
    [619, 10, 10, 10.2, 10.2, 10.3, 10.3, 10.4, 10.4, 10.5, 10.5],
    [622, 9.7, 9.7, 9.7, 9.8, 9.8, 9.8, 9.9, 9.9, 10, 10],
    [630, 7.5, 7.5, 7.5, 7.5, 7.5, 7.5, 7.5, 7.5, 7.5, 7.5],
    [655, 7.5, 7.5, 7.5, 7.5, 7.5, 7.5, 7.5, 7.5, 7.5, 7.5],
    [660, 5.5, 5.5, 5.5, 5.7, 6.5, 7, 7.5, 7.5, 7.5, 7.5],
    [664, 2.5, 2.5, 2.5, 4.4, 5.8, 7, 7.5, 7.5, 7.5, 7.5],
    [680, 2.5, 2.5, 2.5, 4.4, 5.8, 7, 7.5, 7.5, 7.5, 7.5],
    [694, 3.5, 3.8, 4.2, 4.6, 5.8, 7, 7.5, 7.5, 7.5, 7.5],
    [707, 5, 5.5, 6, 6.5, 7, 7.5, 7.5, 7.5, 7.5, 7.5],
    [720, 7.5, 7.5, 7.5, 7.5, 7.5, 7.5, 7.5, 7.5, 7.5, 7.5],
    [760, 7.5, 7.5, 7.5, 7.5, 7.5, 7.5, 7.5, 7.5, 7.5, 7.5],
    [772, 6.5, 6.5, 6.4, 6.3, 6.2, 6, 5.9, 5.6, 5.3, 5],
    [785, 5.8, 5.7, 5.6, 5.5, 5.3, 5.1, 4.9, 4.8, 4.5, 4.2],
    [802, 5, 4.8, 4.5, 4.2, 4, 3.8, 3.7, 3.6, 3.5, 3.5],
    [820, 2.5, 2.5, 2.5, 2.5, 2.5, 2.5, 2.5, 2.5, 2.5, 2.5],
    [900, 2.5, 2.5, 2.5, 2.5, 2.5, 2.5, 2.5, 2.5, 2.5, 2.5],
    [913, 5, 4.8, 4.6, 4.4, 4.2, 4, 3.8, 3.7, 3.6, 3.5],
    [925, 6.2, 6, 5.7, 5.4, 5.1, 4.9, 4.7, 4.5, 4.3, 4],
    [936, 7, 6.8, 6.6, 6.4, 6.2, 6, 5.8, 5.6, 5.2, 5],
    [950, 7.5, 7.5, 7.5, 7.5, 7.5, 7.5, 7.5, 7.5, 7.5, 7.5],
    [970, 7.5, 7.5, 7.5, 7.5, 7.5, 7.5, 7.5, 7.5, 7.5, 7.5],
    [979, 5.8, 5.8, 5.7, 5.6, 5.5, 5.4, 5.3, 5.2, 5.1, 5],
    [986, 5.4, 5.3, 5.2, 5.1, 5, 4.9, 4.8, 4.7, 4.6, 4.5],
    [994, 5, 4.8, 4.6, 4.5, 4.4, 4.2, 4.1, 4, 3.9, 3.8],
    [1005, 2.5, 2.5, 2.5, 2.5, 2.5, 2.5, 2.5, 2.5, 2.5, 2.5],
    [1250, 2.5, 2.5, 2.5, 2.5, 2.5, 2.5, 2.5, 2.5, 2.5, 2.5],
    [1255, 4, 4, 4, 4, 4, 4, 4, 4, 4, 4],
    [1265, 6, 6, 6, 6, 6, 6, 6, 6, 6, 6],
    [1290, 7.5, 7.5, 7.5, 7.5, 7.5, 7.5, 7.5, 7.5, 7.5, 7.5],
    [1435, 7.5, 7.5, 7.5, 7.5, 7.5, 7.5, 7.5, 7.5, 7.5, 7.5],
    [1441, 5, 5.5, 6, 6.5, 7, 7.5, 7.5, 7.5, 7.5, 7.5],
    [1460, 3, 4, 4.6, 5.4, 6.5, 7.2, 7.5, 7.5, 7.5, 7.5],
    [1473, 2.5, 3, 4, 4.6, 5.4, 6.5, 7.5, 7.5, 7.5, 7.5],
    [1501, 2.5, 2.5, 3, 3.8, 4.5, 5.2, 6.5, 7.5, 7.5, 7.5],
    [1526, 2.5, 2.5, 2.5, 3, 3.5, 4.2, 5.4, 7, 7.5, 7.5],
    [1543, 2.5, 2.5, 2.5, 3, 3.8, 4.7, 5.8, 7, 7.5, 7.5],
    [1558, 2.5, 3, 3.8, 4.7, 5.6, 6.5, 7, 7.5, 7.5, 7.5],
    [1581, 3.5, 4.6, 5.6, 6.5, 7.5, 7.5, 7.5, 7.5, 7.5, 7.5],
    [1596, 4.2, 5.4, 6.5, 7.5, 7.5, 7.5, 7.5, 7.5, 7.5, 7.5],
    [1620, 3.5, 4.9, 5.8, 7, 7.5, 7.5, 7.5, 7.5, 7.5, 7.5],
    [1638, 2.5, 3.5, 4.3, 4.9, 5.5, 6.5, 7.2, 7.5, 7.5, 7.5],
    [1656, 2.5, 2.5, 3, 3.5, 4, 4.5, 4.9, 5.5, 7, 7.5],
    [1663, 2.5, 2.5, 2.5, 3, 3.5, 4, 4.4, 4.7, 6.5, 7.5],
    [1673, 2.5, 2.5, 2.5, 2.5, 2.5, 3, 3, 4.7, 6.5, 7.5],
    [1679, 5, 4.9, 4.8, 4.6, 4.4, 4.2, 4, 4.3, 6.3, 7.5],
    [1690, 6.5, 6.2, 6, 5.8, 5.5, 5.3, 5, 5.2, 6, 6.5],
    [1693, 6.8, 6.5, 6.2, 6, 5.8, 5.5, 5.3, 5.2, 5.3, 5.5],
    [1698, 7, 6.8, 6.5, 6.2, 5.8, 5.5, 5.1, 4.5, 4.5, 4.6],
    [1721, 7.2, 7, 6.8, 6.5, 6, 5.5, 4.9, 4, 3, 2.5],
    [1738, 6.5, 6.3, 6, 5.7, 5.3, 5, 4.2, 3.5, 2.5, 2.5],
    [1745, 5.5, 5.4, 5.2, 5.05, 4.8, 4.5, 3.5, 2.5, 2.5, 2.5],
    [1748, 5, 4.9, 4.8, 4.6, 4.2, 3.5, 2.5, 2.5, 2.5, 2.5],
    [1760, 2.5, 2.5, 2.5, 2.5, 2.5, 2.5, 2.5, 2.5, 2.5, 2.5],
    [1805, 2.5, 2.5, 2.5, 2.5, 2.5, 2.5, 2.5, 2.5, 2.5, 4],
    [1812, 2.5, 2.5, 2.5, 3, 3.5, 4, 4.3, 4.6, 4.8, 5],
    [1818, 2.5, 2.5, 3, 3.5, 4.2, 4.7, 5.1, 5.4, 5.7, 6],
    [1826, 2.5, 3, 4, 4.9, 5.4, 5.8, 6.5, 7, 7.5, 7.5],
    [1840, 2.5, 3.3, 4.6, 5.5, 6.5, 7.5, 7.5, 7.5, 7.5, 7.5],
    [1860, 2.5, 3.5, 4.9, 5.6, 6.5, 7.5, 7.5, 7.5, 7.5, 7.5],
    [1880, 2.5, 3.5, 4.8, 5.6, 6.5, 7.5, 7.5, 7.5, 7.5, 7.5],
    [1895, 2.5, 3.3, 4.4, 5.4, 6.5, 7.5, 7.5, 7.5, 7.5, 7.5],
    [1918, 2.5, 3, 3.8, 4.6, 5.3, 6.5, 7.5, 7.5, 7.5, 7.5],
    [1946, 2.5, 2.5, 3, 3.5, 4.2, 5, 6, 7.2, 7.5, 7.5],
    [1963, 2.5, 2.5, 2.5, 3, 3.6, 4.4, 5.4, 6.8, 7.5, 7.5],
    [1993, 2.5, 2.5, 2.5, 3, 3.5, 4, 4.6, 5.6, 6.8, 7.5],
    [2018, 2.5, 2.5, 2.5, 2.5, 3, 3.8, 4.4, 5.4, 6.8, 7.5],
    [2038, 2.5, 2.5, 2.5, 2.5, 3, 3.8, 4.5, 5.5, 6.8, 7.5],
    [2058, 2.5, 2.5, 2.5, 2.5, 3, 4, 4.9, 5.8, 7, 7.5],
    [2083, 2.5, 2.5, 2.5, 3, 3.5, 4.5, 5.5, 6.5, 7.5, 7.5],
    [2103, 2.5, 2.5, 2.5, 3, 3.8, 4.9, 5.8, 6.8, 7.5, 7.5],
    [2138, 2.5, 2.5, 2.5, 3.2, 4.2, 5.2, 6.2, 7, 7.5, 7.5],
    [2183, 2.5, 2.5, 2.5, 3.5, 4.5, 5.5, 6.5, 7.5, 7.5, 7.5],
    [2215, 2.5, 2.5, 2.8, 3.8, 4.8, 5.9, 6.8, 7.5, 7.5, 7.5],
    [2253, 2.5, 2.5, 2.8, 3.7, 4.7, 5.7, 6.7, 7.5, 7.5, 7.5],
    [2291, 2.5, 2.5, 3, 4, 5, 6, 7, 7.5, 7.5, 7.5],
    [2311, 2.5, 3, 3.8, 4.5, 5.3, 6.2, 7, 7.5, 7.5, 7.5],
    [2321, 3, 3.5, 4, 5.1, 6, 6.8, 7.5, 7.5, 7.5, 7.5],
    [2326, 5, 5.5, 6, 6.5, 7, 7.5, 7.5, 7.5, 7.5, 7.5],
    [2340, 7.5, 7.5, 7.5, 7.5, 7.5, 7.5, 7.5, 7.5, 7.5, 7.5],
    [2380, 7.5, 7.5, 7.5, 7.5, 7.5, 7.5, 7.5, 7.8, 8.5, 10],
    [2399, 7.5, 7.5, 7.5, 7.5, 8, 8.5, 9.3, 10.4, 11.5, 12.5],
    [2441, 7.5, 7.5, 7.8, 8, 8.5, 9, 9.8, 11, 12, 12.5],
    [2460, 8.5, 8.5, 8.6, 8.8, 9.2, 9.6, 10.4, 11.5, 12.5, 12.5],
    [2466, 10, 10.1, 10.2, 10.3, 10.5, 10.7, 11, 11.8, 12.5, 12.5],
    [2480, 12.5, 12.5, 12.5, 12.5, 12.5, 12.5, 12.5, 12.5, 12.5, 12.5],
    [2503, 13.5, 13.6, 13.7, 13.8, 14, 14.2, 14.4, 14.6, 14.8, 15],
    [2511, 14.2, 14.4, 14.5, 14.6, 14.8, 15, 15.2, 15.5, 15.8, 16],
    [2520, 15, 15.5, 16, 16, 16, 16.5, 16.5, 17, 17, 17.5],
    [2536, 17.5, 17.5, 17.5, 17.5, 17.5, 17.5, 17.5, 17.5, 17.5, 17.5],
]

label_px = np.array([70, 161.3, 252.8, 344.5, 430, 521.7, 613, 704.7, 796, 887])


def rect(x0, y0, x1, y1):
    return [x0 / W, 1 - y1 / H, (x1 - x0) / W, (y1 - y0) / H]


def txt(x, y, s, size, **kw):
    fig.text(x / W, 1 - y / H, s, fontsize=size, ha=kw.pop('ha', 'center'), va='center', **kw)


def panel(table, levels, colors, labels, box, cbox, title, title_xy, shift, prof_xy, data_xy):
    table = np.array(table, dtype=float)
    x = table[:, 0] / MONTH
    z = table[:, 1:].T

    ax = fig.add_axes(rect(*box))
    cf = ax.contourf(x, depths, z, levels=levels, colors=colors)
    ax.contour(x, depths, z, levels=levels, colors='k', linewidths=0.75)
    ax.set_xlim(0, x[-1])
    ax.set_ylim(-9, -0.2)
    ax.set_xticks(range(10))
    ax.set_xticklabels([])
    ax.set_yticks([-2, -4, -6, -8])
    ax.set_yticklabels(['-2', '-4', '-6', '-8'], fontsize=15)
    ax.tick_params(direction='out', length=5.8, width=0.9, color='#444444',
                   top=True, right=True, pad=1)
    for s in ax.spines.values():
        s.set_color('#555555')
        s.set_linewidth(1.0)

    for lab, px in zip(months, label_px + shift):
        txt(px, box[3] + 29, lab, 15)
    txt(data_xy[0], data_xy[1] + 1.5, 'Data', 16.6)
    txt(prof_xy[0] + 3, prof_xy[1], 'Prof. (m)', 16.4, rotation=90)
    txt(title_xy[0], title_xy[1] + 1.5, title, 18.9, ha='right')

    cax = fig.add_axes(rect(*cbox))
    cb = fig.colorbar(cf, cax=cax, drawedges=True)
    cb.set_ticks(levels[:len(labels)])
    cb.set_ticklabels(labels, fontsize=15)
    cb.ax.tick_params(length=0, pad=3.5)
    cb.outline.set_edgecolor('#555555')
    cb.outline.set_linewidth(1.0)
    cb.dividers.set_color('k')
    cb.dividers.set_linewidth(0.9)


fig = plt.figure(figsize=(W / 100, H / 100), dpi=100)

panel(temp_table, temp_levels, temp_colors, temp_labels, (73, 94, 918.7, 411), (943.7, 44, 970.3, 467.7),
      'Temperatura (ºC)', (1007, 23), 0, (21, 252.5), (496, 465))
panel(o2_table, o2_levels, o2_colors, o2_labels, (84.7, 573.3, 930, 890), (956.7, 514.7, 983.3, 937.7),
      'O2 dissolvido (mg/L)', (999, 494), 15, (33, 731.5), (507, 944))
panel(turb_table, turb_levels, turb_colors, turb_labels, (89.3, 1048.3, 934.3, 1365), (958, 993.3, 984.3, 1416.7),
      'Turbidez (NTU)', (996, 972), 19, (38, 1206.5), (512, 1419))

# piece of a logo cut off by the top edge
fig.add_artist(Ellipse((368 / W, 1 + 1 / H), 104 / W, 16 / H, color='#eef6f7', transform=fig.transFigure))
fig.add_artist(Ellipse((362 / W, 1 + 2 / H), 44 / W, 8 / H, color='#2a9aa8', transform=fig.transFigure))

fig.savefig('out.png', dpi=100)
